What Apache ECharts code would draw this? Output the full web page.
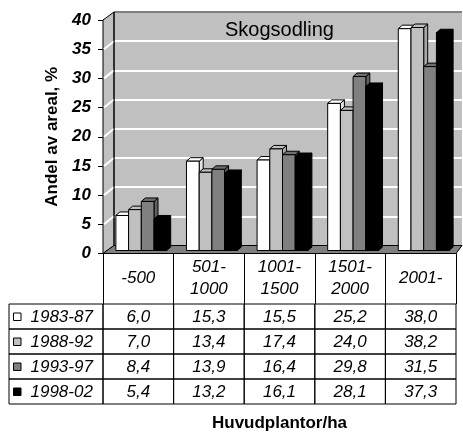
<!DOCTYPE html>
<html><head><meta charset="utf-8">
<script src="https://cdn.jsdelivr.net/npm/echarts@6/dist/echarts.min.js"></script>
<style>html,body{margin:0;padding:0;background:#fff}#c{width:463px;height:433px}</style>
</head><body><div id="c"></div>
<script>
// ---- data ----
const categories = ['-500', '501-\n1000', '1001-\n1500', '1501-\n2000', '2001-'];
const periods = ['1983-87', '1988-92', '1993-97', '1998-02'];
const s1983 = [6.0, 15.3, 15.5, 25.2, 38.0];
const s1988 = [7.0, 13.4, 17.4, 24.0, 38.2];
const s1993 = [8.4, 13.9, 16.4, 29.8, 31.5];
const s1998 = [5.4, 13.2, 16.1, 28.1, 37.3];
const yTicks = [0, 5, 10, 15, 20, 25, 30, 35, 40];
const seriesValues = [s1983, s1988, s1993, s1998];

// ---- styles ----
const FONT = '"Liberation Sans", Arial, sans-serif';
const frontCol = ['#ffffff', '#c0c0c0', '#808080', '#000000'];
const topCol = ['#ffffff', '#c0c0c0', '#6e6e6e', '#000000'];
const sideCol = ['#e4e4e4', '#a8a8a8', '#606060', '#000000'];
const L = {
  front: {left: 103, top: 20, width: 353, height: 233.5},
  back: {left: 114, top: 12, width: 348, height: 233.5},
  bars: {left: 106, top: 17, width: 353, height: 233.5},
  table: {left: 103, top: 304, width: 353, height: 103},
  legendW: 94, depthX: 4, depthY: -3.5
};

const chart = echarts.init(document.getElementById('c'), null, {renderer: 'canvas'});

function barRender(si) {
  return function (params, api) {
    const c = api.value(0), v = api.value(1);
    const base = api.coord([c, 0]);
    const tp = api.coord([c, v]);
    const cw = api.size([1, 0])[0];
    const bw = cw * 0.18;
    const x0 = base[0] - 2 * bw + si * bw;
    const x1 = x0 + bw;
    const yb = base[1], yt = tp[1];
    const dx = L.depthX, dy = L.depthY;
    const st = {stroke: '#000', lineWidth: 1};
    return {type: 'group', children: [
      {type: 'polygon', shape: {points: [[x1, yb], [x1 + dx, yb + dy], [x1 + dx, yt + dy], [x1, yt]]},
        style: Object.assign({fill: sideCol[si]}, st)},
      {type: 'polygon', shape: {points: [[x0, yt], [x0 + dx, yt + dy], [x1 + dx, yt + dy], [x1, yt]]},
        style: Object.assign({fill: topCol[si]}, st)},
      {type: 'rect', shape: {x: x0, y: yt, width: bw, height: yb - yt},
        style: Object.assign({fill: frontCol[si]}, st)}
    ]};
  };
}

function fmt(v) { return v.toFixed(1).replace('.', ','); }

function tableRender(params, api) {
  const c = api.value(0), r = api.value(1), v = api.value(2);
  const p = api.coord([c, r]);
  const sz = api.size([1, 1]);
  const x = p[0] - sz[0] / 2, y = p[1] - sz[1] / 2;
  const children = [
    {type: 'rect', shape: {x: x, y: y, width: sz[0], height: sz[1]},
      style: {fill: 'none', stroke: '#000', lineWidth: 1}},
    {type: 'text', style: {text: fmt(v), x: p[0], y: p[1] + 1, align: 'center', verticalAlign: 'middle',
      font: 'italic 17px ' + FONT, fill: '#000'}}
  ];
  if (c === 0) {
    const lx = x - L.legendW;
    children.push(
      {type: 'rect', shape: {x: lx, y: y, width: L.legendW, height: sz[1]},
        style: {fill: 'none', stroke: '#000', lineWidth: 1}},
      {type: 'rect', shape: {x: lx + 4.5, y: p[1] - 3.5, width: 7.5, height: 7.5},
        style: {fill: frontCol[r], stroke: '#000', lineWidth: 1}},
      {type: 'text', style: {text: periods[r], x: lx + 21.5, y: p[1] + 1, align: 'left', verticalAlign: 'middle',
        font: 'italic 17px ' + FONT, fill: '#000'}}
    );
  }
  return {type: 'group', children: children};
}

const tableData = [];
seriesValues.forEach((arr, r) => arr.forEach((v, c) => tableData.push([c, r, v])));

const option = {
  animation: false,
  backgroundColor: '#fff',
  title: {text: 'Skogsodling', left: 279.5, top: 20, textAlign: 'center', padding: 0,
    textStyle: {fontSize: 20, fontWeight: 'normal', fontFamily: FONT, color: '#000'}},
  grid: [
    Object.assign({}, L.front),
    Object.assign({show: true, backgroundColor: '#c0c0c0', borderWidth: 0}, L.back),
    Object.assign({}, L.bars),
    Object.assign({}, L.table)
  ],
  xAxis: [
    {type: 'category', gridIndex: 0, data: categories,
      axisLine: {lineStyle: {color: '#000', width: 1}},
      axisTick: {show: true, length: 50.5, lineStyle: {color: '#000'}},
      axisLabel: {interval: 0, margin: 25, verticalAlign: 'middle', lineHeight: 22,
        fontSize: 17, fontStyle: 'italic', fontFamily: FONT, color: '#000'}},
    {type: 'category', gridIndex: 1, data: categories, show: false},
    {type: 'category', gridIndex: 2, data: categories, show: false},
    {type: 'category', gridIndex: 3, data: categories, show: true,
      axisLine: {show: false}, axisTick: {show: false}, axisLabel: {show: false}, splitLine: {show: false},
      name: 'Huvudplantor/ha', nameLocation: 'middle', nameGap: 11,
      nameTextStyle: {fontSize: 17, fontWeight: 'bold', fontFamily: FONT, color: '#000'}}
  ],
  yAxis: [
    {type: 'value', gridIndex: 0, min: 0, max: 40, interval: 5,
      axisLine: {show: true, lineStyle: {color: '#000'}},
      axisTick: {show: true, length: 5, lineStyle: {color: '#000'}},
      splitLine: {show: false},
      axisLabel: {margin: 12, fontSize: 17, fontWeight: 'bold', fontStyle: 'italic', fontFamily: FONT, color: '#000'},
      name: 'Andel av areal, %', nameLocation: 'middle', nameGap: 41, nameRotate: 90,
      nameTextStyle: {fontSize: 17, fontWeight: 'bold', fontFamily: FONT, color: '#000'}},
    {type: 'value', gridIndex: 1, min: 0, max: 40, interval: 5,
      axisLine: {show: false}, axisTick: {show: false}, axisLabel: {show: false},
      splitLine: {show: true, lineStyle: {color: '#ffffff', width: 2}}},
    {type: 'value', gridIndex: 2, min: 0, max: 40, show: false},
    {type: 'category', gridIndex: 3, data: periods, inverse: true, show: false}
  ],
  series: seriesValues.map((arr, si) => ({
    name: periods[si], type: 'custom', xAxisIndex: 2, yAxisIndex: 2, z: 10,
    renderItem: barRender(si), encode: {x: 0, y: 1},
    data: arr.map((v, c) => [c, v])
  })).concat([{
    type: 'custom', xAxisIndex: 3, yAxisIndex: 3, z: 5,
    renderItem: tableRender, encode: {x: 0, y: 1},
    data: tableData
  }])
};
chart.setOption(option);

// ---- 3D frame (side wall, floor) from the axes' own scales ----
const fy = v => chart.convertToPixel({yAxisIndex: 0}, v);
const by = v => chart.convertToPixel({yAxisIndex: 1}, v);
const fl = L.front.left, fr = L.front.left + L.front.width;
const bl = L.back.left, br = L.back.left + L.back.width;
const yMax = yTicks[yTicks.length - 1], yMin = yTicks[0];
const gEls = [
  {type: 'polygon', z: 1, shape: {points: [[fl, fy(yMax)], [bl, by(yMax)], [bl, by(yMin)], [fl, fy(yMin)]]},
    style: {fill: '#c0c0c0', stroke: '#000', lineWidth: 1}}
];
yTicks.slice(1, -1).forEach(t => gEls.push({type: 'line', z: 2,
  shape: {x1: fl + 1, y1: fy(t), x2: bl, y2: by(t)}, style: {stroke: '#fff', lineWidth: 2}}));
gEls.push(
  {type: 'polygon', z: 3, shape: {points: [[fl, fy(yMin)], [bl, by(yMin)], [br, by(yMin)], [fr, fy(yMin)]]},
    style: {fill: '#808080', stroke: '#000', lineWidth: 1}},
  {type: 'polyline', z: 3, shape: {points: [[bl, by(yMin)], [bl, by(yMax)], [br, by(yMax)]]},
    style: {stroke: '#000', lineWidth: 1, fill: 'none'}}
);
chart.setOption({graphic: {elements: gEls}});
</script>
</body></html>
